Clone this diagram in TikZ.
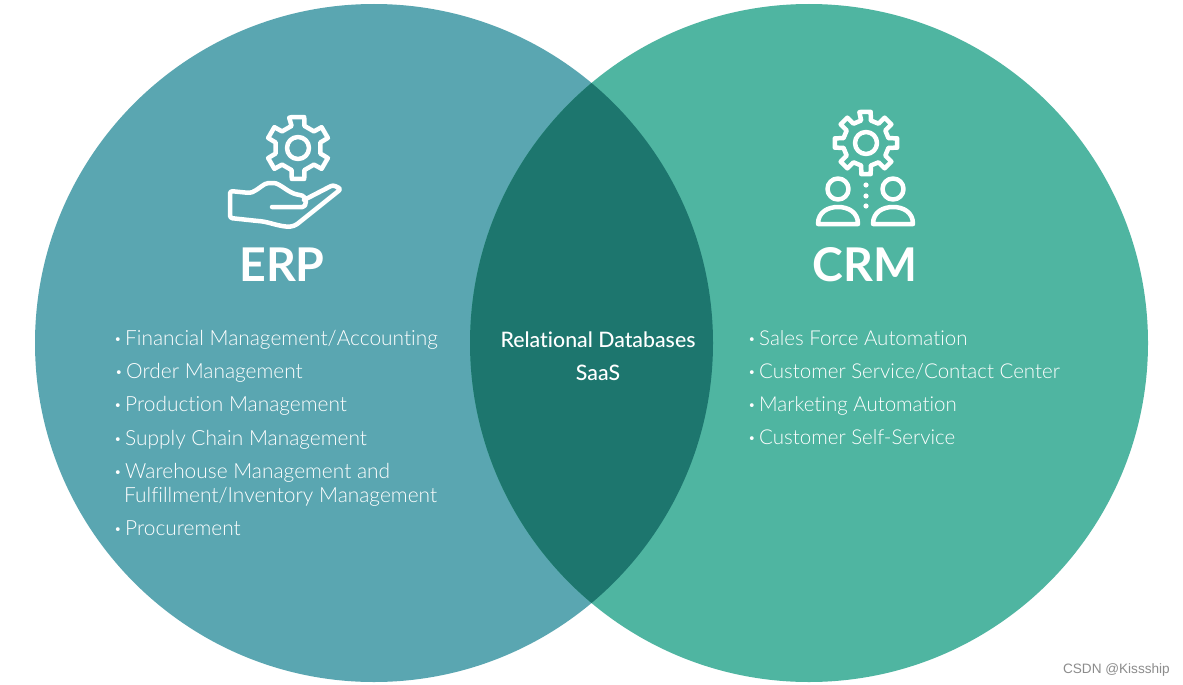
\documentclass[tikz,border=0pt]{standalone}
\usepackage{fontspec}
\setmainfont{Lato}[UprightFont=* Light,BoldFont=* Bold,Ligatures=NoCommon]
\newfontfamily\midsans{Lato Medium}[Ligatures=NoCommon]
\newfontfamily\marksans{Liberation Sans}
\usepackage{xcolor}
\definecolor{erpteal}{HTML}{5AA6B1}
\definecolor{crmgreen}{HTML}{4FB5A1}
\definecolor{overlapdark}{HTML}{1D766E}
\newcommand{\dotitem}{\makebox[11pt][l]{\raisebox{1.5pt}{\fontsize{13}{13}\selectfont\textbullet}}}

\begin{document}
\begin{tikzpicture}[x=1pt,y=-1pt,font=\fontsize{20.9}{25}\selectfont,text=white]
    \tikzset{item/.style={anchor=base west,inner sep=0pt},
             head/.style={anchor=base,inner sep=0pt,font=\fontsize{46.5}{50}\selectfont\bfseries},
             mid/.style={anchor=base,inner sep=0pt,font=\midsans\fontsize{21.3}{24}\selectfont},
             icon/.style={draw=white,line width=4.5pt,line join=round,line cap=round},
             gear/.pic={
               % one tooth after another, hub on top
               \pgfmathsetmacro{\stepa}{360/#1}
               \draw[icon] (-90-0.27*\stepa:31.5) \foreach \k in {1,...,#1} {
                   -- ({-90+(\k-1)*\stepa-0.19*\stepa}:31.5) -- ({-90+(\k-1)*\stepa+0.19*\stepa}:31.5)
                   -- ({-90+(\k-1)*\stepa+0.27*\stepa}:23) -- ({-90+\k*\stepa-0.27*\stepa}:23)
                 } -- cycle;
               \draw[icon] (0,0) circle (11);
             }}
    \useasboundingbox (0,0) rectangle (1183,685);
    \fill[white] (0,0) rectangle (1183,685);

    % the two sets and what they share
    \fill[erpteal] (374,343) circle (339);
    \fill[crmgreen] (809,343) circle (339);
    \begin{scope}
      \clip (374,343) circle (339);
      \fill[overlapdark] (809,343) circle (339);
    \end{scope}

    % ERP icon
    \pic at (298,148) {gear=6};
    \draw[icon,rounded corners=2.5pt] (272,207) -- (300,207) .. controls (307,207) and (307,197) .. (300,195)
      .. controls (288,193) and (280,183) .. (271,183) .. controls (264,183) and (258,190) .. (250,193) -- (230,191)
      -- (230,218) -- (258,221) .. controls (270,222) and (285,229) .. (296,225) -- (341,189) -- (333,185) -- (304,200);

    % CRM icon
    \pic at (866,143) {gear=8};
    \foreach \cx in {838,893} {
      \draw[icon] (\cx,189) circle (10.5);
      \draw[icon] (\cx-20,224) .. controls (\cx-20,212) and (\cx-10,207) .. (\cx,207)
        .. controls (\cx+10,207) and (\cx+20,212) .. (\cx+20,224) -- cycle;
    }
    \foreach \dy in {185,196,206} \fill[white] (866,\dy) circle (2.6);

    \node[head] (erp) at (282,281) {ERP};
    \node[head] (crm) at (865,281) {CRM};

    % left list
    \foreach \ty/\tx/\lbl in {345/114/Financial Management\slash Accounting,
                              378/115/Order Management,
                              411/114/Production Management,
                              445/114/Supply Chain Management,
                              478/114/Warehouse Management and,
                              535/114/Procurement}
      \node[item] at (\tx,\ty) {\dotitem\lbl};
    \node[item] (ful) at (124,502) {Fulfillment/Inventory Management};

    % middle
    \node[mid] (rel) at (598,347) {Relational Databases};
    \node[mid] (saas) at (598,380) {SaaS};

    % right list
    \foreach \ty/\lbl in {345/Sales Force Automation,
                          378/Customer Service\slash Contact Center,
                          411/Marketing Automation,
                          444/Customer Self-Service}
      \node[item,font=\fontsize{20.5}{25}\selectfont] at (748,\ty) {\dotitem\lbl};

    \node[anchor=base east,inner sep=0pt,text=black!45,font=\marksans\fontsize{13.6}{15}\selectfont] (mark) at (1170,673) {CSDN @Kissship};
  \end{tikzpicture}
\end{document}
